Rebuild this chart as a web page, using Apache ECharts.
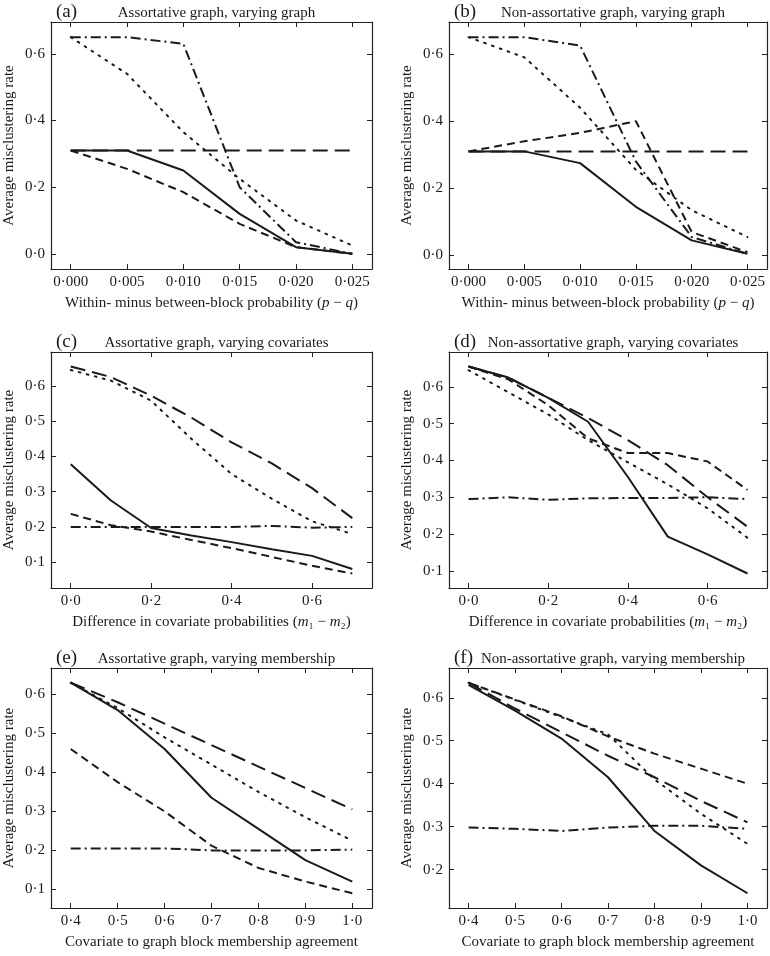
<!DOCTYPE html>
<html>
<head>
<meta charset="UTF-8">
<title>Average misclustering rate</title>
<script src="https://cdn.jsdelivr.net/npm/echarts@6/dist/echarts.min.js"></script>
<style>
html, body { margin: 0; padding: 0; background: #fff; }
#chart { width: 770px; height: 956px; }
</style>
</head>
<body>
<div id="chart"></div>
<script>
// x values of the three kinds of experiment
var xGraph = [0, 0.005, 0.010, 0.015, 0.020, 0.025];
var xCovariate = [0, 0.1, 0.2, 0.3, 0.4, 0.5, 0.6, 0.7];
var xMembership = [0.4, 0.5, 0.6, 0.7, 0.8, 0.9, 1.0];

// tick labels
var xTicksGraph = [0, 0.005, 0.010, 0.015, 0.020, 0.025];
var xTicksCovariate = [0, 0.2, 0.4, 0.6];
var xTicksMembership = [0.4, 0.5, 0.6, 0.7, 0.8, 0.9, 1.0];
var yTicksAB = [0, 0.2, 0.4, 0.6];
var yTicksCDE = [0.1, 0.2, 0.3, 0.4, 0.5, 0.6];
var yTicksF = [0.2, 0.3, 0.4, 0.5, 0.6];

// (a) assortative graph, varying graph
var aSolid = [0.31, 0.31, 0.25, 0.12, 0.02, 0.0];
var aLongDash = [0.31, 0.31, 0.31, 0.31, 0.31, 0.31];
var aShortDash = [0.31, 0.255, 0.185, 0.09, 0.02, 0.0];
var aDotted = [0.65, 0.54, 0.365, 0.225, 0.10, 0.025];
var aDashDot = [0.65, 0.65, 0.63, 0.20, 0.035, 0.0];

// (b) non-assortative graph, varying graph
var bSolid = [0.31, 0.31, 0.275, 0.145, 0.045, 0.005];
var bLongDash = [0.31, 0.31, 0.31, 0.31, 0.31, 0.31];
var bShortDash = [0.31, 0.34, 0.365, 0.40, 0.07, 0.01];
var bDotted = [0.65, 0.59, 0.44, 0.255, 0.135, 0.055];
var bDashDot = [0.65, 0.65, 0.625, 0.28, 0.055, 0.005];

// (c) assortative graph, varying covariates
var cSolid = [0.378, 0.275, 0.197, 0.176, 0.157, 0.137, 0.118, 0.081];
var cLongDash = [0.655, 0.625, 0.572, 0.51, 0.44, 0.38, 0.31, 0.225];
var cShortDash = [0.237, 0.205, 0.187, 0.163, 0.14, 0.115, 0.09, 0.068];
var cDotted = [0.645, 0.615, 0.558, 0.45, 0.35, 0.28, 0.216, 0.18];
var cDashDot = [0.2, 0.2, 0.2, 0.2, 0.2, 0.203, 0.198, 0.2];

// (d) non-assortative graph, varying covariates
var dSolid = [0.655, 0.625, 0.57, 0.505, 0.355, 0.193, 0.145, 0.093];
var dLongDash = [0.655, 0.625, 0.57, 0.515, 0.455, 0.387, 0.30, 0.22];
var dShortDash = [0.655, 0.62, 0.55, 0.46, 0.42, 0.42, 0.397, 0.32];
var dDotted = [0.645, 0.585, 0.525, 0.455, 0.395, 0.335, 0.27, 0.19];
var dDashDot = [0.295, 0.30, 0.293, 0.297, 0.298, 0.298, 0.30, 0.295];

// (e) assortative graph, varying membership
var eSolid = [0.63, 0.56, 0.46, 0.335, 0.255, 0.175, 0.12];
var eLongDash = [0.63, 0.58, 0.525, 0.47, 0.415, 0.36, 0.305];
var eShortDash = [0.46, 0.375, 0.30, 0.212, 0.155, 0.12, 0.09];
var eDotted = [0.63, 0.565, 0.49, 0.42, 0.35, 0.285, 0.225];
var eDashDot = [0.205, 0.205, 0.205, 0.20, 0.20, 0.20, 0.202];

// (f) non-assortative graph, varying membership
var fSolid = [0.63, 0.57, 0.505, 0.415, 0.29, 0.21, 0.145];
var fLongDash = [0.635, 0.575, 0.52, 0.465, 0.415, 0.36, 0.31];
var fShortDash = [0.635, 0.596, 0.557, 0.51, 0.47, 0.435, 0.40];
var fDotted = [0.635, 0.595, 0.555, 0.515, 0.41, 0.33, 0.26];
var fDashDot = [0.298, 0.295, 0.29, 0.298, 0.302, 0.302, 0.295];

var FONT = '"Liberation Serif", "DejaVu Serif", serif';
var INK = '#1a1a1a';
var AXIS = '#222';

var xNameGraph = 'Within- minus between-block probability ({i|p} − {i|q})';
var xNameCov = 'Difference in covariate probabilities ({i|m}₁ − {i|m}₂)';
var xNameMember = 'Covariate to graph block membership agreement';

var panels = [
    {tag: '(a)', title: 'Assortative graph, varying graph', x: xGraph, xTicks: xTicksGraph, digits: 3,
     xName: xNameGraph, yTicks: yTicksAB, lines: [aDashDot, aDotted, aLongDash, aShortDash, aSolid],
     grid: {left: 51, top: 22, width: 321, height: 247}},
    {tag: '(b)', title: 'Non-assortative graph, varying graph', x: xGraph, xTicks: xTicksGraph, digits: 3,
     xName: xNameGraph, yTicks: yTicksAB, lines: [bDashDot, bDotted, bLongDash, bShortDash, bSolid],
     grid: {left: 449, top: 22, width: 318, height: 247}},
    {tag: '(c)', title: 'Assortative graph, varying covariates', x: xCovariate, xTicks: xTicksCovariate, digits: 1,
     xName: xNameCov, yTicks: yTicksCDE, lines: [cDashDot, cDotted, cLongDash, cShortDash, cSolid],
     grid: {left: 51, top: 352, width: 321, height: 236}},
    {tag: '(d)', title: 'Non-assortative graph, varying covariates', x: xCovariate, xTicks: xTicksCovariate, digits: 1,
     xName: xNameCov, yTicks: yTicksCDE, lines: [dDashDot, dDotted, dLongDash, dShortDash, dSolid],
     grid: {left: 449, top: 352, width: 318, height: 236}},
    {tag: '(e)', title: 'Assortative graph, varying membership', x: xMembership, xTicks: xTicksMembership, digits: 1,
     xName: xNameMember, yTicks: yTicksCDE, lines: [eDashDot, eDotted, eLongDash, eShortDash, eSolid],
     grid: {left: 51, top: 668, width: 321, height: 240}},
    {tag: '(f)', title: 'Non-assortative graph, varying membership', x: xMembership, xTicks: xTicksMembership, digits: 1,
     xName: xNameMember, yTicks: yTicksF, lines: [fDashDot, fDotted, fLongDash, fShortDash, fSolid],
     grid: {left: 449, top: 668, width: 318, height: 240}}
];

// dash-dot, dotted, long dash, short dash, solid
var lineTypes = [
    {type: [10, 4, 2, 4]},
    {type: [1.8, 6.5], cap: 'round'},
    {type: [15, 7]},
    {type: [8, 5]},
    {type: 'solid'}
];

function padded(values, frac) {
    var lo = Math.min.apply(null, values), hi = Math.max.apply(null, values);
    var pad = (hi - lo) * frac;
    return {min: lo - pad, max: hi + pad};
}

function fmt(digits) {
    return function (v) { return v.toFixed(digits).replace('.', '\u00b7'); };
}

var option = {
    animation: false,
    backgroundColor: '#fff',
    title: [], grid: [], xAxis: [], yAxis: [], series: []
};

panels.forEach(function (p, i) {
    var g = p.grid;
    var xr = padded(p.x, 0.07);
    var yr = padded([].concat.apply([], p.lines), 0.07);
    var line = {show: true, onZero: false, lineStyle: {color: AXIS, width: 1.2}};
    var label = {fontFamily: FONT, fontSize: 15, color: INK};

    option.grid.push({left: g.left, top: g.top, width: g.width, height: g.height});
    option.title.push({
        text: p.tag, left: g.left, top: g.top - 24,
        textStyle: {fontFamily: FONT, fontSize: 19, fontWeight: 'normal', color: INK}
    });
    option.title.push({
        text: p.title, left: g.left + g.width / 2, top: g.top - 21, textAlign: 'center',
        textStyle: {fontFamily: FONT, fontSize: 15, fontWeight: 'normal', color: INK}
    });

    option.xAxis.push({
        type: 'value', gridIndex: i, position: 'bottom', min: xr.min, max: xr.max,
        axisLine: line, splitLine: {show: false},
        axisTick: {inside: true, length: 5, customValues: p.xTicks, lineStyle: {color: AXIS}},
        axisLabel: Object.assign({customValues: p.xTicks, formatter: fmt(p.digits), margin: 6}, label),
        name: p.xName, nameLocation: 'middle', nameGap: 27,
        nameTextStyle: Object.assign({
            rich: {i: {fontFamily: FONT, fontSize: 15, fontStyle: 'italic', color: INK}}
        }, label)
    });
    option.xAxis.push({
        type: 'value', gridIndex: i, position: 'top', min: xr.min, max: xr.max,
        axisLine: line, splitLine: {show: false},
        axisTick: {inside: true, length: 5, customValues: p.xTicks, lineStyle: {color: AXIS}},
        axisLabel: {show: false}
    });
    option.yAxis.push({
        type: 'value', gridIndex: i, position: 'left', min: yr.min, max: yr.max,
        axisLine: line, splitLine: {show: false},
        axisTick: {inside: true, length: 5, customValues: p.yTicks, lineStyle: {color: AXIS}},
        axisLabel: Object.assign({customValues: p.yTicks, formatter: fmt(1), margin: 6}, label),
        name: 'Average misclustering rate', nameLocation: 'middle', nameGap: 34,
        nameTextStyle: label
    });
    option.yAxis.push({
        type: 'value', gridIndex: i, position: 'right', min: yr.min, max: yr.max,
        axisLine: line, splitLine: {show: false},
        axisTick: {inside: true, length: 5, customValues: p.yTicks, lineStyle: {color: AXIS}},
        axisLabel: {show: false}
    });

    p.lines.forEach(function (ys, k) {
        option.series.push({
            type: 'line', xAxisIndex: 2 * i, yAxisIndex: 2 * i,
            data: p.x.map(function (x, j) { return [x, ys[j]]; }),
            symbol: 'none', silent: true,
            lineStyle: Object.assign({color: INK, width: 2}, lineTypes[k])
        });
    });
});

var chart = echarts.init(document.getElementById('chart'), null, {renderer: 'canvas'});
chart.setOption(option);
</script>
</body>
</html>
